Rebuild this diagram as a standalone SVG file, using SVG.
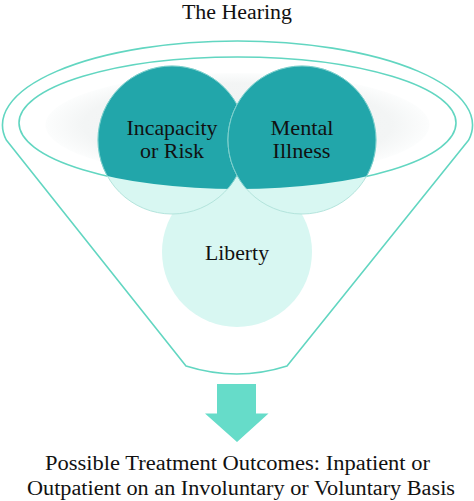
<svg xmlns="http://www.w3.org/2000/svg" width="474" height="501" viewBox="0 0 474 501">
  <defs>
    <style>
      .lbl { font-family: "Liberation Serif", "Times New Roman", serif; fill: #111; text-anchor: middle; }
      .funnel { fill: none; stroke: #62d6c1; stroke-width: 1.6; stroke-linejoin: round; }
      .light { fill: #d8f7f2; }
      .lightStroke { stroke: #b3e4dc; stroke-width: 1; }
      .dark { fill: #22a6aa; stroke: #7ccfcd; stroke-width: 1; }
    </style>
    <radialGradient id="gray" cx="0.5" cy="0.5" r="0.5">
      <stop offset="0" stop-color="#f0f2f2"/>
      <stop offset="0.8" stop-color="#f3f5f5"/>
      <stop offset="1" stop-color="#fcfdfd"/>
    </radialGradient>
    <clipPath id="innerClip">
      <ellipse cx="237.5" cy="123" rx="218.5" ry="66"/>
    </clipPath>
  </defs>
  <rect width="474" height="501" fill="#ffffff"/>

  <g id="funnel">
    <ellipse cx="237.5" cy="125" rx="192" ry="52" fill="url(#gray)"/>
    <path class="funnel" d="M 6.3 140 A 235 84 0 1 1 468.7 140 L 287 366 Q 237 382 186 366 Z"/>
    <ellipse class="funnel" cx="237.5" cy="123" rx="218.5" ry="66"/>
  </g>

  <g id="node-liberty">
    <circle class="light" cx="237" cy="252" r="75"/>
    <text class="lbl" x="237" y="260" font-size="21" textLength="64" lengthAdjust="spacingAndGlyphs">Liberty</text>
  </g>

  <g id="node-incapacity">
    <circle class="light lightStroke" cx="172" cy="140" r="74"/>
    <circle class="dark" cx="172" cy="140" r="74" clip-path="url(#innerClip)"/>
  </g>

  <g id="node-mental">
    <circle class="light lightStroke" cx="302" cy="140" r="74"/>
    <circle class="dark" cx="302" cy="140" r="74" clip-path="url(#innerClip)"/>
  </g>

  <g id="labels">
    <text class="lbl" x="172" y="135" font-size="21" textLength="91" lengthAdjust="spacingAndGlyphs">Incapacity</text>
    <text class="lbl" x="172" y="157.5" font-size="21" textLength="64" lengthAdjust="spacingAndGlyphs">or Risk</text>
    <text class="lbl" x="302" y="135" font-size="21" textLength="63" lengthAdjust="spacingAndGlyphs">Mental</text>
    <text class="lbl" x="301.5" y="157.5" font-size="21" textLength="58" lengthAdjust="spacingAndGlyphs">Illness</text>
  </g>

  <g id="title">
    <text class="lbl" x="237" y="18.5" font-size="20" textLength="110" lengthAdjust="spacingAndGlyphs">The Hearing</text>
  </g>

  <g id="connectors">
    <path d="M 217 384 L 256 384 L 256 413.5 L 268.5 413.5 L 237 442 L 205 413.5 L 217 413.5 Z" fill="#66dcc9"/>
  </g>

  <g id="outcome">
    <text class="lbl" x="237.5" y="470" font-size="20.5" textLength="385" lengthAdjust="spacingAndGlyphs">Possible Treatment Outcomes: Inpatient or</text>
    <text class="lbl" x="241" y="495" font-size="20.5" textLength="428" lengthAdjust="spacingAndGlyphs">Outpatient on an Involuntary or Voluntary Basis</text>
  </g>
</svg>
